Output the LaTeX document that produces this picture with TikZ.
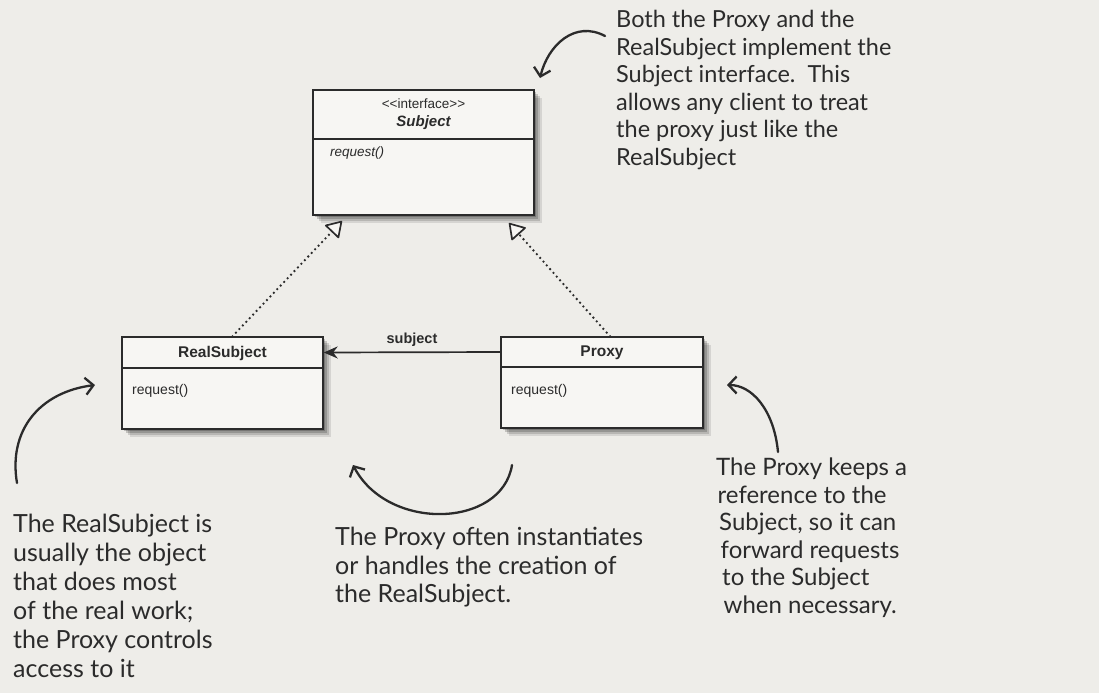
\documentclass[tikz,border=0pt]{standalone}
\usepackage{fontspec}
\setmainfont{Liberation Sans}
\newfontfamily\hand{Lato}
\usetikzlibrary{arrows.meta,shadows}
\definecolor{paper}{HTML}{EEEDE9}
\definecolor{ink}{HTML}{2B2B2B}
\definecolor{boxfill}{HTML}{F7F6F3}
\begin{document}
\begin{tikzpicture}[x=1pt,y=-1pt,
  softshadow/.style={
    drop shadow={shadow xshift=2pt, shadow yshift=-2pt, opacity=0.2, fill=black},
    drop shadow={shadow xshift=4pt, shadow yshift=-4pt, opacity=0.18, fill=black},
    drop shadow={shadow xshift=6pt, shadow yshift=-6pt, opacity=0.14, fill=black},
    drop shadow={shadow xshift=8pt, shadow yshift=-8pt, opacity=0.1, fill=black}},
  umlbox/.style={draw=ink, line width=1.4pt, fill=boxfill, rectangle, inner sep=0pt, softshadow},
  divider/.style={draw=ink, line width=1.2pt},
  boxtitle/.style={font=\bfseries\fontsize{15.5}{17}\selectfont, text=ink, inner sep=0pt},
  member/.style={font=\fontsize{14}{16}\selectfont, text=ink, anchor=west, inner sep=0pt},
  realize/.style={draw=ink, line width=2.6pt, line cap=round, dash pattern=on 0pt off 5pt,
    -{Triangle[fill=boxfill, length=16pt, width=20pt, line width=1.7pt, round]}},
  assoc/.style={draw=ink, line width=1.7pt, -{Stealth[length=14pt, width=12pt]}},
  note/.style={text=ink, align=left, anchor=north west, inner sep=0pt},
  handarrow/.style={draw=ink, line width=2.3pt, line cap=round,
    -{Straight Barb[length=8pt, width=17pt, line width=2.3pt]}}
]
\fill[paper] (0,0) rectangle (1099,693);
\useasboundingbox (0,0) rectangle (1099,693);

% UML boxes
\node[umlbox, minimum width=221pt, minimum height=125pt] (subj) at (423.5,152.5) {};
\draw[divider] (313,139) -- (534,139);
\node[font=\fontsize{13.5}{15}\selectfont, text=ink, inner sep=0pt] (iface) at (423.5,104) {<{}<interface>{}>};
\node[font=\bfseries\itshape\fontsize{15}{17}\selectfont, text=ink, inner sep=0pt] (subjname) at (423.5,123) {Subject};
\node[member, font=\itshape\fontsize{13.5}{15}\selectfont] (subjreq) at (330,153) {request()};

\node[umlbox, minimum width=201pt, minimum height=92pt] (rs) at (222.5,383) {};
\draw[divider] (122,368) -- (323,368);
\node[boxtitle] (rsname) at (222.5,353) {RealSubject};
\node[member] (rsreq) at (132,391) {request()};

\node[umlbox, minimum width=202pt, minimum height=91pt] (proxy) at (602,382.5) {};
\draw[divider] (501,367) -- (703,367);
\node[boxtitle] (pname) at (602,353) {Proxy};
\node[member] (preq) at (511,391) {request()};

% connectors
\coordinate (t1) at (342,221);
\coordinate (t2) at (509,223);
\draw[realize] ([xshift=10pt]rs.north) -- (t1);
\draw[realize] ([xshift=8pt]proxy.north) -- (t2);
\draw[assoc] ([yshift=30.5pt]proxy.west) -- ([yshift=30.5pt]rs.east)
  node[midway, above=2pt, font=\bfseries\fontsize{14.5}{16}\selectfont, text=ink] (sublbl) {subject};

% notes
\node[note, font=\hand\fontsize{23.5}{27.5}\selectfont] (n1) at (616,10) {Both the Proxy and the\\RealSubject implement the\\Subject interface.\ \ This\\allows any client to treat\\the proxy just like the\\RealSubject};
\node[note, font=\hand\fontsize{25}{29}\selectfont] (n2) at (13,514) {The RealSubject is\\usually the object\\that does most\\of the real work;\\the Proxy controls\\access to it};
\node[note, font=\hand\fontsize{25}{28.5}\selectfont] (n3) at (335,527) {The Proxy often instantiates\\or handles the creation of\\the RealSubject.};
\node[note, font=\hand\fontsize{24}{27.5}\selectfont] (n4) at (716,458) {The Proxy keeps a\\\hspace*{1.5pt}reference to the\\\hspace*{3pt}Subject, so it can\\\hspace*{4.5pt}forward requests\\\hspace*{6pt}to the Subject\\\hspace*{7.5pt}when necessary.};

% hand arrows
\coordinate (a1s) at (605,36);
\coordinate (a1e) at (540,78);
\draw[handarrow] (a1s) .. controls (575,20) and (548,45) .. (a1e);
\coordinate (a2s) at (17,483);
\coordinate (a2e) at (95,385);
\draw[handarrow] (a2s) .. controls (8,430) and (40,392) .. (a2e);
\coordinate (a3s) at (512,465);
\coordinate (a3e) at (353,465);
\draw[handarrow] (a3s) .. controls (502,528) and (388,532) .. (a3e);
\coordinate (a4s) at (778,452);
\coordinate (a4e) at (727,385);
\draw[handarrow] (a4s) .. controls (774,410) and (752,385) .. (a4e);
\end{tikzpicture}
\end{document}
